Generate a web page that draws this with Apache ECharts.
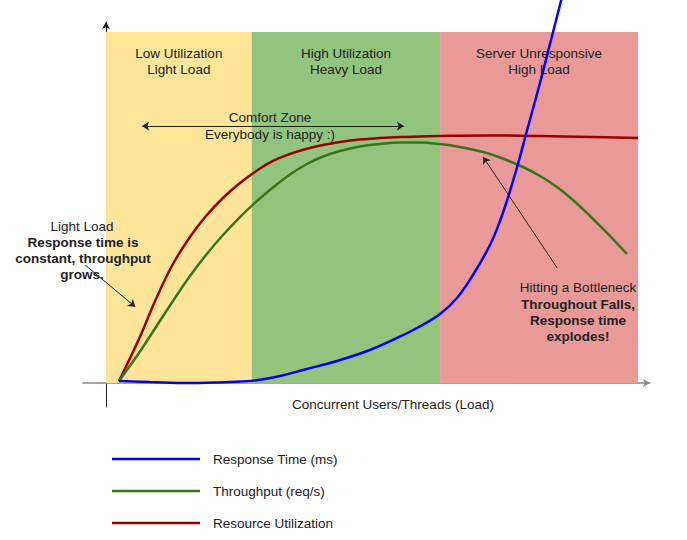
<!DOCTYPE html>
<html>
<head>
<meta charset="utf-8">
<script src="https://cdn.jsdelivr.net/npm/echarts@6/dist/echarts.min.js"></script>
<style>html,body{margin:0;padding:0;background:#fff}#c{width:687px;height:540px}</style>
</head>
<body>
<div id="c"></div>
<script>
// ---- data (x: load 0..100, y: relative level 0..100) ----
const seriesNames = ['Response Time (ms)', 'Throughput (req/s)', 'Resource Utilization'];
const responseTime = [[2.44,0.57],[8.27,0.28],[15.79,0],[23.31,0.28],[28.01,0.71],[32.71,1.99],[37.41,3.85],[43.42,6.27],[49.62,9.40],[54.32,12.54],[58.46,15.67],[62.78,19.66],[65.98,24.22],[68.98,30.77],[72.18,39.32],[74.06,46.15],[75.94,54.70],[77.44,62.39],[79.32,72.93],[81.58,85.47],[83.46,96.58],[85.34,107.69],[86.28,113.4]];
const throughput = [[2.44,0.57],[6.20,8.55],[9.40,15.95],[12.59,23.36],[15.79,30.48],[18.80,36.47],[21.99,42.17],[25.19,47.29],[28.38,51.85],[31.39,55.70],[34.59,59.40],[37.59,62.25],[40.79,64.53],[43.98,66.10],[47.74,67.38],[51.50,68.09],[55.26,68.52],[59.02,68.52],[62.78,68.09],[66.54,67.24],[70.86,65.81],[74.06,64.25],[78.38,61.54],[81.58,58.97],[84.77,55.84],[87.78,52.14],[90.98,47.58],[94.17,42.74],[97.93,36.75]];
const utilization = [[2.44,0.57],[6.20,12.54],[9.40,23.93],[12.59,33.90],[15.79,41.60],[18.80,47.58],[21.99,52.71],[25.19,56.98],[28.38,60.54],[31.39,63.25],[34.59,65.24],[37.59,66.67],[40.79,67.81],[43.98,68.66],[47.74,69.37],[51.50,69.80],[55.26,70.09],[59.02,70.23],[62.78,70.37],[72.18,70.51],[81.58,70.37],[90.98,70.09],[100,69.80]];
const bandNames = ['Low Utilization\nLight Load', 'High Utilization\nHeavy Load', 'Server Unresponsive\nHigh Load'];
const bandBounds = [[0, 27.4], [27.4, 62.8], [62.8, 100]];
const bandTop = 100;
const bandColors = ['#ffe599', '#93c47d', '#ea9999'];
const lineColors = ['#0000ff', '#38761d', '#990000'];
// annotation arrows (data coords)
const arrows = [
  {from:[6.8,73.2], to:[56.0,73.2], both:true},
  {from:[-3.9,33.6], to:[5.5,21.7]},
  {from:[84.8,32.8], to:[70.9,64.4]}
];

const FONT = '"Liberation Sans", Arial, sans-serif';
const TXT = '#222';
function txt(text, x, y, bold) {
  return {type:'text', x:x, y:y, z:100, zlevel:0, silent:true, style:{text:text, textAlign:'center', textVerticalAlign:'middle',
    align:'center', verticalAlign:'middle',
    font:(bold?'bold ':'') + '13.5px ' + FONT, fill:TXT}};
}

const chart = echarts.init(document.getElementById('c'), null, {renderer:'svg'});
const legendTops = [451, 483, 515];
chart.setOption({
  animation:false,
  backgroundColor:'#fff',
  grid:{left:83, right:37, top:22, bottom:133},
  xAxis:{type:'value', min:-4.32, max:102.26,
    axisLine:{onZero:true, symbol:['none','arrow'], symbolSize:[6,7], lineStyle:{color:'#888', width:1.5}},
    axisTick:{show:false}, axisLabel:{show:false}, splitLine:{show:false}},
  yAxis:{type:'value', min:-6.84, max:102.85,
    axisLine:{show:true, onZero:true, symbol:['none','arrow'], symbolSize:[6,7], lineStyle:{color:'#222', width:1}},
    axisTick:{show:false}, axisLabel:{show:false}, splitLine:{show:false}},
  legend: seriesNames.map((n,i)=>({
    data:[n], left:112, top:legendTops[i], padding:0, orient:'vertical', selectedMode:false,
    icon:'rect', itemWidth:88, itemHeight:2.5,
    textStyle:{fontFamily:FONT, fontSize:13.5, color:TXT, lineHeight:16, padding:[0,0,0,8]}
  })),
  series:[
    {type:'line', name:'bands', data:[], z:1, silent:true,
      markArea:{silent:true,
        label:{show:true, position:'insideTop', distance:13, fontFamily:FONT, fontSize:13.5, color:TXT, lineHeight:16, align:'center'},
        data: bandBounds.map((b,i)=>[{xAxis:b[0], yAxis:0, name:bandNames[i], itemStyle:{color:bandColors[i], opacity:1}}, {xAxis:b[1], yAxis:bandTop}])
      },
      markLine:{silent:true, symbolSize:7, label:{show:false},
        lineStyle:{color:TXT, width:1, type:'solid'},
        data: arrows.map(a=>[{coord:a.from, symbol:a.both?'arrow':'none'},{coord:a.to, symbol:'arrow'}])
      }
    },
    {type:'line', name:seriesNames[2], data:utilization, smooth:0.4, symbol:'none', z:3, clip:false,
      itemStyle:{color:lineColors[2]}, lineStyle:{color:lineColors[2], width:2.5}},
    {type:'line', name:seriesNames[1], data:throughput, smooth:0.4, symbol:'none', z:4, clip:false,
      itemStyle:{color:lineColors[1]}, lineStyle:{color:lineColors[1], width:2.5}},
    {type:'line', name:seriesNames[0], data:responseTime, smooth:0.4, symbol:'none', z:5, clip:false,
      itemStyle:{color:lineColors[0]}, lineStyle:{color:lineColors[0], width:2.5}}
  ],
  graphic:{elements:[
    txt('Comfort Zone', 270, 117), txt('Everybody is happy :)', 270, 134),
    txt('Light Load', 82, 226),
    txt('Response time is', 83, 242, true), txt('constant, throughput', 83, 258, true), txt('grows.', 82, 274, true),
    txt('Hitting a Bottleneck', 578, 287),
    txt('Throughout Falls,', 578, 304, true), txt('Response time', 578, 320, true), txt('explodes!', 578, 336, true),
    txt('Concurrent Users/Threads (Load)', 393, 404)
  ]}
});
</script>
</body>
</html>
